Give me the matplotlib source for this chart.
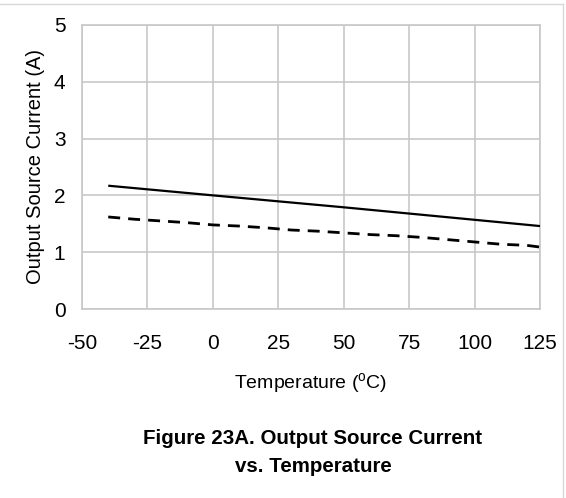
import matplotlib
matplotlib.use("Agg")
import matplotlib.pyplot as plt
from matplotlib.lines import Line2D

# readings taken off the figure
temp_solid = [-40, 0, 50, 100, 125]
current_solid = [2.17, 2.00, 1.79, 1.57, 1.46]

temp_dashed = [-40, -30, -20, -10, 0, 10, 20, 30, 40, 50, 60, 70, 80, 90, 100, 110, 120, 125]
current_dashed = [1.62, 1.58, 1.55, 1.52, 1.48, 1.46, 1.43, 1.39, 1.37, 1.34,
                  1.31, 1.29, 1.26, 1.22, 1.18, 1.14, 1.12, 1.09]

x_ticks = [-50, -25, 0, 25, 50, 75, 100, 125]
y_ticks = [0, 1, 2, 3, 4, 5]

plt.rcParams['font.family'] = ['Liberation Sans', 'DejaVu Sans']
plt.rcParams['mathtext.fontset'] = 'custom'
plt.rcParams['mathtext.rm'] = 'Liberation Sans'
plt.rcParams['axes.unicode_minus'] = False

fig = plt.figure(figsize=(5.66, 4.98), dpi=100)
ax = fig.add_axes([0.145, 0.3795, 0.809, 0.5705])

grid_col = '#c8c8c8'
ax.plot(temp_solid, current_solid, color='black', linewidth=1.6, solid_capstyle='butt', zorder=3)
ax.plot(temp_dashed, current_dashed, color='black', linewidth=2.0,
        dashes=(4.3, 2.9), dash_capstyle='butt', zorder=3)

ax.set_xlim(-50, 125)
ax.set_ylim(0, 5)
ax.set_xticks(x_ticks)
ax.set_yticks(y_ticks)
ax.tick_params(axis='both', length=0, labelsize=15, colors='black')
ax.tick_params(axis='x', pad=18)
ax.tick_params(axis='y', pad=12)

# grid
ax.grid(color=grid_col, linewidth=1.2)
for s in ax.spines.values():
    s.set_color(grid_col)
    s.set_linewidth(1.2)

ax.set_ylabel('Output Source Current (A)', fontsize=14.5, labelpad=6)
ax.set_xlabel('Temperature ($^{\\mathrm{o}}$C)', fontsize=14, labelpad=13)

fig.text(0.553, 0.0913, 'Figure 23A. Output Source Current\nvs. Temperature',
         ha='center', va='center', fontsize=14.8, fontweight='bold',
         linespacing=1.54)

# thin border round the image (top and right visible)
fig.add_artist(Line2D([0, 0.995], [0.992, 0.992], color='#d8d8d8', linewidth=1.0,
                      transform=fig.transFigure))
fig.add_artist(Line2D([0.995, 0.995], [0, 0.992], color='#d8d8d8', linewidth=1.0,
                      transform=fig.transFigure))

fig.savefig('out.png', dpi=100)
